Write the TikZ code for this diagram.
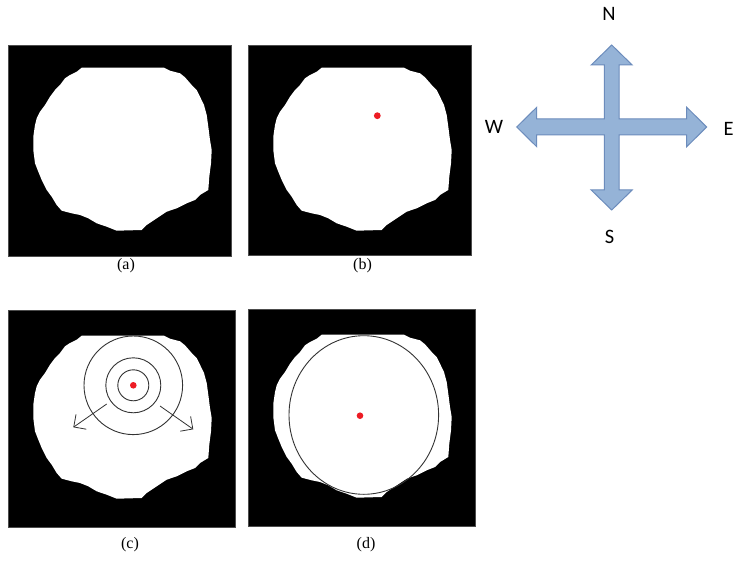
\documentclass[tikz,border=0pt]{standalone}
\usepackage{fontspec}
\setmainfont{Liberation Serif}
\newfontfamily\compassfont{Carlito}
\usetikzlibrary{arrows.meta}
\definecolor{cfill}{RGB}{149,179,215}
\definecolor{cedge}{RGB}{108,140,188}
\definecolor{dotred}{RGB}{237,28,36}
\newcommand{\blobpath}{(81.7,67.7) -- (164,67.7) -- (170,70.7) -- (180,73.3) -- (185,77.3) -- (191.7,85) -- (196.7,90) -- (200,96.7) -- (204,105) -- (206.7,115) -- (208.3,126.7) -- (210,140) -- (211.7,150) -- (211,163.3) -- (209.3,176.7) -- (208.3,190) -- (200,195) -- (195,200) -- (186.7,203.3) -- (176.7,208.3) -- (166.7,211.7) -- (156.7,218.3) -- (146.7,225) -- (141.7,230) -- (116.7,230.7) -- (106.7,226.7) -- (96.7,223.3) -- (88.3,218.3) -- (80,215) -- (71.7,213.3) -- (61.7,210.7) -- (56.7,205) -- (51.7,196.7) -- (46.7,190) -- (41.7,180) -- (38.3,171.7) -- (35,163.3) -- (33.3,150) -- (33.3,136.7) -- (35,125) -- (36.7,118.3) -- (40,111.7) -- (45,105) -- (50,96.7) -- (55,90) -- (60,85) -- (65,78.3) -- (70,75) -- (76.7,71.7) -- cycle}
\tikzset{
  panel/.style={fill=black, draw=black!70, line width=0.6pt},
  blob/.style={fill=white},
  ring/.style={draw=black!80, line width=0.9pt},
  reddot/.style={fill=dotred},
  caption/.style={font=\fontsize{16}{18}\selectfont, inner sep=0pt},
  dir/.style={font=\compassfont\fontsize{20.5}{22}\selectfont, inner sep=0pt},
  spread/.style={draw=black!80, line width=0.8pt, -{Straight Barb[length=9pt,width=18pt]}},
}
\begin{document}
\begin{tikzpicture}[x=1pt,y=-1pt]
\useasboundingbox (0,0) rectangle (735,561);
\fill[white] (0,0) rectangle (735,561);
% panel (a)
\fill[panel] (8.3,45) rectangle (231.7,256);
\fill[blob] \blobpath;
\node[caption] (capa) at (126,266) {(a)};
% panel (b)
\begin{scope}[shift={(240,0)}]
\fill[panel] (8.3,45) rectangle (231.7,255);
\fill[blob] \blobpath;
\end{scope}
\fill[reddot] (377.3,115.7) circle (3.4);
\node[caption] (capb) at (362.5,266) {(b)};
% panel (c)
\fill[panel] (8.3,310) rectangle (235,527.3);
\begin{scope}[shift={(0,268)}]
\fill[blob] \blobpath;
\end{scope}
\coordinate (cc) at (133.3,385.3);
\draw[ring] (cc) circle (15.5);
\draw[ring] (cc) circle (27.5);
\draw[ring] (cc) circle (49.3);
\fill[reddot] (cc) circle (3.3);
\coordinate (la) at (106.7,404);
\coordinate (lb) at (73.3,427.3);
\coordinate (ra) at (160,406);
\coordinate (rb) at (193.3,429.3);
\draw[spread] (la) -- (lb);
\draw[spread] (ra) -- (rb);
\node[caption] (capc) at (130,545) {(c)};
% panel (d)
\fill[panel] (248.3,309.3) rectangle (475,526);
\begin{scope}[shift={(240,267)}]
\fill[blob] \blobpath;
\end{scope}
\draw[ring] (363.8,415) ellipse [x radius=74.8, y radius=79.3];
\fill[reddot] (360,415.7) circle (3.3);
\node[caption] (capd) at (366,545) {(d)};
% compass
\filldraw[fill=cfill, draw=cedge, line width=1pt, line join=miter]
 (611.7,45) -- (632.2,65) -- (619,65) -- (619,119) -- (686.7,119) -- (686.7,107.3) -- (706.7,127) -- (686.7,146.7) -- (686.7,135) -- (619,135) -- (619,190) -- (632.2,190) -- (611.7,210) -- (591.2,190) -- (604.3,190) -- (604.3,135) -- (536.7,135) -- (536.7,146.7) -- (516.7,127) -- (536.7,107.3) -- (536.7,119) -- (604.3,119) -- (604.3,65) -- (591.2,65) -- cycle;
\node[dir] (N) at (609,13.7) {N};
\node[dir] (W) at (494,127) {W};
\node[dir] (S) at (609.5,236.5) {S};
\node[dir] (E) at (728.5,129) {E};
\end{tikzpicture}
\end{document}
